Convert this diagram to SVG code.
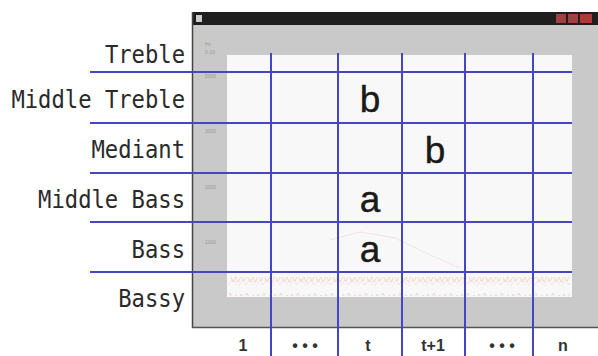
<svg xmlns="http://www.w3.org/2000/svg" width="598" height="356" viewBox="0 0 598 356">
<style>
.row{font-family:"DejaVu Sans Mono","Liberation Mono",monospace;font-size:22.2px;fill:#2a2a2a;text-anchor:end}
.col{font-family:"Liberation Sans",Arial,sans-serif;font-size:16px;font-weight:bold;fill:#333;text-anchor:middle}
.cell{font-family:"Liberation Sans",Arial,sans-serif;font-size:37px;fill:#1a1a1a;text-anchor:middle;stroke:#1a1a1a;stroke-width:0.4}
.tiny{font-family:"Liberation Sans",Arial,sans-serif;font-size:5px;fill:#999}
.grid line{stroke:#4646c4;stroke-width:2}
</style>
<defs>
<pattern id="zig" width="17" height="18" patternUnits="userSpaceOnUse">
<polyline points="0,13 3,6 6,11 9,5 12,12 15,7 17,12" fill="none" stroke="#f0c6c6" stroke-width="0.7"/>
<polyline points="1,16 5,10 8,15 12,9 16,15" fill="none" stroke="#f4d6d6" stroke-width="0.6"/>
</pattern>
</defs>
<rect width="598" height="356" fill="#ffffff"/>
<g id="window">
<rect x="192" y="12" width="406" height="316" fill="#c9c9c9"/>
<rect x="192" y="12" width="406" height="13" fill="#1e1e1e"/>
<rect x="196" y="15" width="6" height="7" fill="#cccccc"/>
<rect x="556" y="14" width="10" height="9" fill="#a04040"/>
<rect x="568" y="14" width="10" height="9" fill="#a04040"/>
<rect x="580" y="14" width="12" height="9" fill="#b03838"/>
<line x1="192.5" y1="12" x2="192.5" y2="328" stroke="#444" stroke-width="1.5"/>
<line x1="192" y1="327.5" x2="598" y2="327.5" stroke="#555" stroke-width="1.5"/>
<rect x="227" y="55" width="345" height="242" fill="#f8f8f8"/>
<rect x="229" y="277" width="341" height="19" fill="url(#zig)"/>
<path d="M330,240 L360,232 L395,238 L430,255 L460,268" fill="none" stroke="#f3dcdc" stroke-width="0.8"/>
<text class="tiny" x="205" y="46">Hz</text>
<text class="tiny" x="205" y="54">0-10</text>
<text class="tiny" x="205" y="78">5000</text>
<text class="tiny" x="205" y="133">3000</text>
<text class="tiny" x="205" y="189">2000</text>
<text class="tiny" x="205" y="244">1000</text>
</g>
<g id="row-labels">
<text class="row" transform="translate(185,63) scale(1,1.12)">Treble</text>
<text class="row" transform="translate(185,108) scale(1,1.12)">Middle Treble</text>
<text class="row" transform="translate(185,158) scale(1,1.12)">Mediant</text>
<text class="row" transform="translate(185,208) scale(1,1.12)">Middle Bass</text>
<text class="row" transform="translate(185,258) scale(1,1.12)">Bass</text>
<text class="row" transform="translate(185,307) scale(1,1.12)">Bassy</text>
</g>
<g id="grid" class="grid">
<line x1="90" y1="72" x2="572" y2="72"/>
<line x1="90" y1="123" x2="572" y2="123"/>
<line x1="90" y1="173" x2="572" y2="173"/>
<line x1="90" y1="222" x2="572" y2="222"/>
<line x1="90" y1="272" x2="572" y2="272"/>
<line x1="271" y1="53" x2="271" y2="356"/>
<line x1="338" y1="53" x2="338" y2="356"/>
<line x1="402" y1="53" x2="402" y2="356"/>
<line x1="465" y1="53" x2="465" y2="356"/>
<line x1="533" y1="53" x2="533" y2="356"/>
</g>
<g id="cells">
<text class="cell" x="370" y="112">b</text>
<text class="cell" x="435" y="163">b</text>
<text class="cell" x="370" y="212">a</text>
<text class="cell" x="370" y="262">a</text>
</g>
<g id="col-labels">
<text class="col" x="243" y="351">1</text>
<text class="col" x="305" y="351">• • •</text>
<text class="col" x="368" y="351">t</text>
<text class="col" x="433" y="351">t+1</text>
<text class="col" x="502" y="351">• • •</text>
<text class="col" x="563" y="351">n</text>
</g>
</svg>
